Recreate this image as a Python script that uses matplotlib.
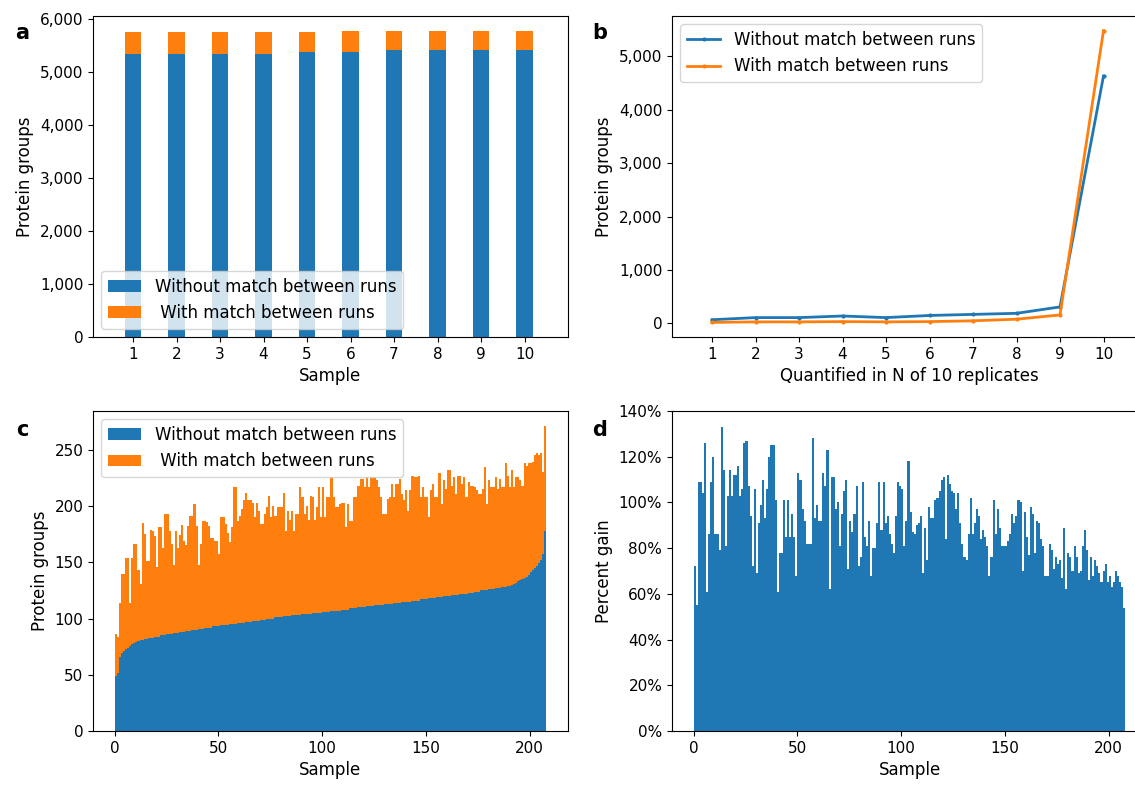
import numpy as np
import matplotlib
matplotlib.use('Agg')
import matplotlib.pyplot as plt
from matplotlib.ticker import FuncFormatter

# panel a: protein groups per sample
samples_a = [1, 2, 3, 4, 5, 6, 7, 8, 9, 10]
without_a = [5340, 5335, 5335, 5335, 5365, 5365, 5400, 5400, 5400, 5400]
with_a = [5740, 5740, 5740, 5740, 5740, 5760, 5760, 5760, 5760, 5760]

# panel b: quantified in N of 10 replicates
n_rep = [1, 2, 3, 4, 5, 6, 7, 8, 9, 10]
without_b = [70, 110, 110, 140, 110, 150, 170, 190, 310, 4630]
with_b = [20, 30, 30, 35, 30, 35, 50, 80, 160, 5480]

# panel c: protein groups per sample (sorted)
without_c = [
    49, 52, 66, 69, 71, 73, 74, 76, 77, 78,
    79, 80, 81, 81, 82, 82, 83, 83, 83, 84,
    84, 84, 85, 85, 85, 86, 86, 86, 87, 87,
    87, 88, 88, 88, 89, 89, 89, 90, 90, 90,
    91, 91, 91, 92, 92, 92, 92, 93, 93, 93,
    93, 94, 94, 94, 94, 95, 95, 95, 95, 96,
    96, 96, 96, 97, 97, 97, 98, 98, 98, 98,
    99, 99, 99, 100, 100, 100, 100, 101, 101, 101,
    101, 102, 102, 102, 102, 103, 103, 103, 103, 103,
    104, 104, 104, 104, 104, 105, 105, 105, 105, 105,
    106, 106, 106, 106, 107, 107, 107, 107, 107, 108,
    108, 108, 108, 109, 109, 109, 109, 110, 110, 110,
    110, 111, 111, 111, 111, 112, 112, 112, 112, 112,
    113, 113, 113, 113, 114, 114, 114, 114, 115, 115,
    115, 115, 115, 116, 116, 116, 116, 117, 117, 117,
    117, 118, 118, 118, 118, 119, 119, 119, 120, 120,
    120, 120, 121, 121, 121, 121, 122, 122, 122, 122,
    123, 123, 123, 124, 124, 124, 125, 125, 125, 125,
    126, 126, 126, 127, 127, 127, 128, 128, 128, 129,
    129, 130, 131, 132, 133, 134, 135, 136, 137, 139,
    141, 143, 145, 147, 149, 152, 157, 178]
with_c = [
    86, 84, 114, 140, 140, 154, 154, 114, 154, 166,
    166, 143, 131, 185, 175, 151, 151, 179, 178, 173,
    146, 181, 181, 163, 193, 193, 178, 166, 148, 178,
    163, 174, 183, 169, 165, 182, 191, 191, 202, 182,
    148, 166, 187, 187, 186, 182, 172, 172, 169, 169,
    157, 190, 190, 184, 176, 168, 181, 217, 217, 187,
    191, 197, 205, 212, 205, 205, 203, 190, 203, 196,
    184, 184, 193, 199, 209, 190, 200, 191, 199, 199,
    199, 212, 178, 196, 188, 196, 178, 193, 193, 217,
    208, 193, 200, 188, 209, 208, 188, 199, 217, 190,
    217, 190, 208, 208, 226, 208, 199, 199, 202, 203,
    203, 181, 202, 187, 187, 208, 208, 218, 224, 224,
    217, 226, 217, 226, 226, 226, 223, 217, 208, 193,
    193, 206, 208, 220, 208, 220, 220, 224, 211, 205,
    214, 196, 214, 227, 226, 226, 227, 208, 217, 208,
    208, 190, 214, 220, 208, 208, 229, 202, 223, 215,
    232, 232, 218, 226, 211, 227, 227, 220, 226, 208,
    221, 218, 218, 217, 214, 211, 211, 215, 235, 202,
    223, 217, 217, 226, 215, 224, 217, 217, 238, 227,
    217, 232, 217, 226, 226, 223, 218, 238, 236, 238,
    238, 239, 245, 247, 245, 247, 230, 271]

# panel d: percent gain per sample
gain_d = [
    72, 55, 109, 109, 104, 126, 61, 86, 109, 120,
    86, 86, 79, 133, 114, 81, 103, 114, 103, 112,
    112, 116, 103, 106, 126, 127, 107, 94, 72, 106,
    69, 91, 99, 110, 93, 106, 120, 125, 125, 101,
    61, 78, 78, 101, 85, 101, 85, 95, 85, 68,
    113, 110, 97, 92, 82, 82, 82, 128, 93, 99,
    92, 92, 113, 107, 123, 62, 111, 111, 97, 100,
    81, 95, 105, 110, 71, 92, 87, 95, 107, 72,
    76, 109, 85, 81, 92, 68, 80, 80, 91, 109,
    88, 109, 91, 94, 86, 82, 78, 94, 109, 107,
    106, 81, 92, 118, 96, 87, 86, 90, 91, 94,
    69, 89, 75, 98, 93, 93, 101, 102, 105, 110,
    111, 84, 112, 108, 105, 104, 97, 104, 91, 82,
    76, 75, 86, 102, 86, 91, 97, 94, 84, 88,
    85, 81, 68, 76, 101, 86, 97, 89, 81, 81,
    81, 83, 86, 95, 91, 94, 101, 100, 70, 96,
    85, 77, 98, 95, 78, 92, 91, 84, 81, 68,
    68, 82, 79, 71, 76, 73, 75, 67, 89, 62,
    78, 76, 70, 81, 76, 69, 70, 81, 88, 79,
    66, 76, 68, 75, 72, 69, 65, 70, 73, 65,
    68, 63, 65, 70, 68, 65, 63, 54]

lab_wo = 'Without match between runs'
lab_w = 'With match between runs'
blue = '#1f77b4'
orange = '#ff7f0e'

comma = FuncFormatter(lambda v, p: '{:,.0f}'.format(v))
pct = FuncFormatter(lambda v, p: '{:.0f}%'.format(v))

fig = plt.figure(figsize=(11.35, 7.86), dpi=100)
W, H = 1135.0, 786.0

def box(left, top, right, bottom):
    return [left / W, 1 - bottom / H, (right - left) / W, (bottom - top) / H]

fs = 12      # axis labels
tfs = 11     # tick labels
legfs = 12

# a
ax = fig.add_axes(box(93, 16, 568, 337))
wo_a = np.array(without_a)
ax.bar(samples_a, wo_a, 0.38, color=blue, label=lab_wo)
ax.bar(samples_a, np.array(with_a) - wo_a, 0.38, bottom=wo_a, color=orange, label=' ' + lab_w)
ax.set_xticks(samples_a)
ax.set_xlim(0.08, 11.0)
ax.yaxis.set_major_formatter(comma)
ax.set_xlabel('Sample', fontsize=fs)
ax.set_ylabel('Protein groups', fontsize=fs)
ax.tick_params(labelsize=tfs)
ax.legend(loc='lower left', fontsize=legfs)

# b
ax = fig.add_axes(box(672, 16, 1147, 337))
ax.plot(n_rep, without_b, marker='.', markersize=4, lw=2, color=blue, label=lab_wo)
ax.plot(n_rep, with_b, marker='.', markersize=4, lw=2, color=orange, label=lab_w)
ax.set_xticks(n_rep)
ax.set_xlim(0.08, 11.0)
ax.yaxis.set_major_formatter(comma)
ax.set_xlabel('Quantified in N of 10 replicates', fontsize=fs)
ax.set_ylabel('Protein groups', fontsize=fs)
ax.tick_params(labelsize=tfs)
ax.legend(loc='upper left', fontsize=legfs)

# c
ax = fig.add_axes(box(93, 411, 568, 731))
idx = np.arange(len(without_c))
wo_c = np.array(without_c)
ax.bar(idx, wo_c, 1, align='edge', color=blue, lw=0, label=lab_wo)
ax.bar(idx, np.array(with_c) - wo_c, 1, bottom=wo_c, align='edge', color=orange, lw=0, label=' ' + lab_w)
ax.set_xlabel('Sample', fontsize=fs)
ax.set_ylabel('Protein groups', fontsize=fs)
ax.tick_params(labelsize=tfs)
ax.legend(loc='upper left', fontsize=legfs)

# d
ax = fig.add_axes(box(672, 411, 1147, 731))
ax.bar(np.arange(len(gain_d)), gain_d, 1, align='edge', color=blue, lw=0)
ax.set_ylim(0, 140)
ax.yaxis.set_major_formatter(pct)
ax.set_xlabel('Sample', fontsize=fs)
ax.set_ylabel('Percent gain', fontsize=fs)
ax.tick_params(labelsize=tfs)

for x, y, t in [(22, 33, 'a'), (600, 33, 'b'), (22, 430, 'c'), (600, 430, 'd')]:
    fig.text(x / W, 1 - y / H, t, fontsize=15, fontweight='bold', ha='center', va='center')

fig.savefig('out.png', dpi=100)
